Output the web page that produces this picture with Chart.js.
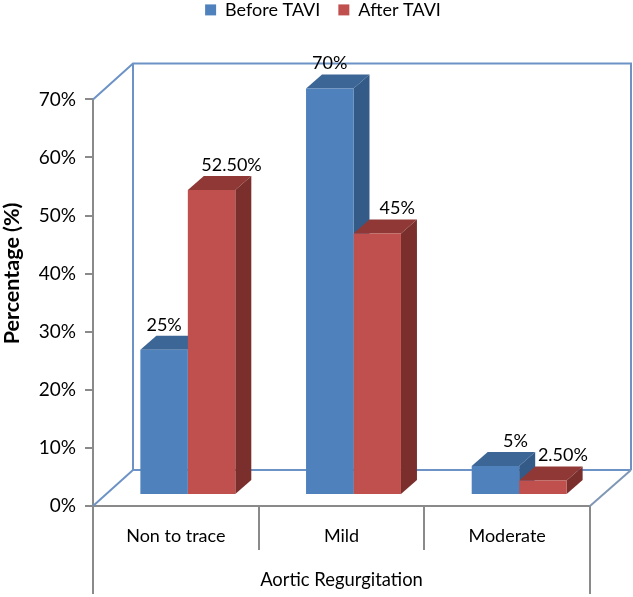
<!DOCTYPE html>
<html lang="en">
<head>
    <meta charset="UTF-8">
    <title>Aortic Regurgitation</title>
    <script src="https://cdn.jsdelivr.net/npm/chart.js"></script>
    <style>
        body { margin: 0; background: #fff; }
    </style>
</head>
<body>
    <canvas id="chart" width="633" height="597"></canvas>
    <script>
        const categories = ['Non to trace', 'Mild', 'Moderate'];
        const beforeTavi = [25, 70, 5];
        const afterTavi = [52.5, 45, 2.5];
        const beforeLabels = ['25%', '70%', '5%'];
        const afterLabels = ['52.50%', '45%', '2.50%'];

        const fontName = 'Lato';
        const textColor = '#000';
        const lineBlue = '#6d93c6';
        const axisGrey = '#8a8a8a';

        // Excel style fake 3D: depth of the box, and where the bars sit on the floor
        const wallDepth = { x: 40, y: -36 };
        const barShift = { x: 12, y: -11 };
        const barDepth = { x: 16, y: -14 };
        const faces = [
            { top: '#3c6696', side: '#345a88' },
            { top: '#8f3836', side: '#7a2f2d' }
        ];
        const valueLabels = [beforeLabels, afterLabels];
        const labelNudge = [[0, 0, 20], [20, 20, 20]];

        function poly(ctx, pts, fill) {
            ctx.beginPath();
            pts.forEach((p, i) => i ? ctx.lineTo(p[0], p[1]) : ctx.moveTo(p[0], p[1]));
            ctx.closePath();
            ctx.fillStyle = fill;
            ctx.fill();
        }

        function line(ctx, pts, color, width) {
            ctx.beginPath();
            pts.forEach((p, i) => i ? ctx.lineTo(p[0], p[1]) : ctx.moveTo(p[0], p[1]));
            ctx.strokeStyle = color;
            ctx.lineWidth = width;
            ctx.stroke();
        }

        const fake3d = {
            id: 'fake3d',
            afterLayout(chart) {
                // legend sits above the padding and right of centre
                chart.legend.top -= 70.5;
                chart.legend.bottom -= 70.5;
                chart.legend.left += 28;
                chart.legend.right += 28;
            },
            beforeDatasetsDraw(chart) {
                const { ctx, chartArea: a } = chart;
                const d = wallDepth;
                ctx.save();
                // back wall and floor
                line(ctx, [[a.left, a.top], [a.left + d.x, a.top + d.y], [a.right + d.x + 1, a.top + d.y],
                    [a.right + d.x + 1, a.bottom + d.y]], lineBlue, 2);
                line(ctx, [[a.left + d.x, a.top + d.y], [a.left + d.x, a.bottom + d.y], [a.right + d.x + 1, a.bottom + d.y]], lineBlue, 2);
                line(ctx, [[a.left, a.bottom], [a.left + d.x, a.bottom + d.y]], lineBlue, 2);
                line(ctx, [[a.right, a.bottom], [a.right + d.x + 1, a.bottom + d.y]], '#7f97b5', 2);
                // long outer ticks under the first and last category
                line(ctx, [[a.left, a.bottom], [a.left, 594]], axisGrey, 2);
                line(ctx, [[a.right, a.bottom], [a.right, 594]], axisGrey, 2);

                // top and side faces go first, blue then red, so red covers the blue side
                ctx.translate(barShift.x, barShift.y);
                const e = barDepth;
                faces.forEach((c, ds) => {
                    chart.getDatasetMeta(ds).data.forEach(bar => {
                        const l = bar.x - bar.width / 2;
                        const r = bar.x + bar.width / 2;
                        poly(ctx, [[l, bar.y], [l + e.x, bar.y + e.y], [r + e.x, bar.y + e.y], [r, bar.y]], c.top);
                        poly(ctx, [[r, bar.y], [r + e.x, bar.y + e.y], [r + e.x, bar.base + e.y], [r, bar.base]], c.side);
                    });
                });
                ctx.restore();
            },
            beforeDatasetDraw(chart) {
                chart.ctx.save();
                chart.ctx.translate(barShift.x, barShift.y);
            },
            afterDatasetDraw(chart) {
                chart.ctx.restore();
            },
            afterDatasetsDraw(chart) {
                const { ctx, chartArea: a } = chart;
                ctx.save();
                ctx.fillStyle = textColor;
                ctx.font = '18px ' + fontName;
                ctx.textAlign = 'center';
                ctx.textBaseline = 'middle';
                valueLabels.forEach((texts, ds) => {
                    chart.getDatasetMeta(ds).data.forEach((bar, i) => {
                        ctx.fillText(texts[i], bar.x + barShift.x + labelNudge[ds][i], bar.y + barShift.y - 25);
                    });
                });
                // y title is off centre in the original so it is placed by hand
                ctx.font = 'bold 21.5px ' + fontName;
                ctx.translate(12, a.top + 174);
                ctx.rotate(-Math.PI / 2);
                ctx.fillText('Percentage (%)', 0, 0);
                ctx.restore();
            }
        };

        new Chart(document.getElementById('chart'), {
            type: 'bar',
            data: {
                labels: categories,
                datasets: [
                    { label: 'Before TAVI', data: beforeTavi, backgroundColor: '#4f81bd' },
                    { label: 'After TAVI', data: afterTavi, backgroundColor: '#c0504d' }
                ]
            },
            options: {
                responsive: false,
                animation: false,
                layout: { padding: { top: 53.4, right: 43 } },
                datasets: { bar: { categoryPercentage: 0.573, barPercentage: 1, clip: false } },
                plugins: {
                    tooltip: { enabled: false },
                    legend: {
                        position: 'top',
                        labels: {
                            boxWidth: 11,
                            boxHeight: 11,
                            padding: 18,
                            color: textColor,
                            font: { family: fontName, size: 18 }
                        }
                    }
                },
                scales: {
                    x: {
                        afterFit(scale) { scale.height = 91; },
                        grid: { offset: true, drawOnChartArea: false, tickLength: 44, color: axisGrey, lineWidth: 2 },
                        border: { color: axisGrey, width: 2 },
                        ticks: { padding: -25, color: textColor, maxRotation: 0, font: { family: fontName, size: 18 } },
                        title: {
                            display: true,
                            text: 'Aortic Regurgitation',
                            color: textColor,
                            padding: { top: 0, bottom: 6 },
                            font: { family: fontName, size: 18.4 }
                        }
                    },
                    y: {
                        min: 0,
                        max: 70,
                        afterFit(scale) { scale.width = 93; },
                        grid: { drawOnChartArea: false, tickLength: 8, color: axisGrey, lineWidth: 2 },
                        border: { color: axisGrey, width: 2 },
                        ticks: {
                            stepSize: 10,
                            padding: 9,
                            color: textColor,
                            font: { family: fontName, size: 19 },
                            callback: v => v + '%'
                        }
                    }
                }
            },
            plugins: [fake3d]
        });
    </script>
</body>
</html>
